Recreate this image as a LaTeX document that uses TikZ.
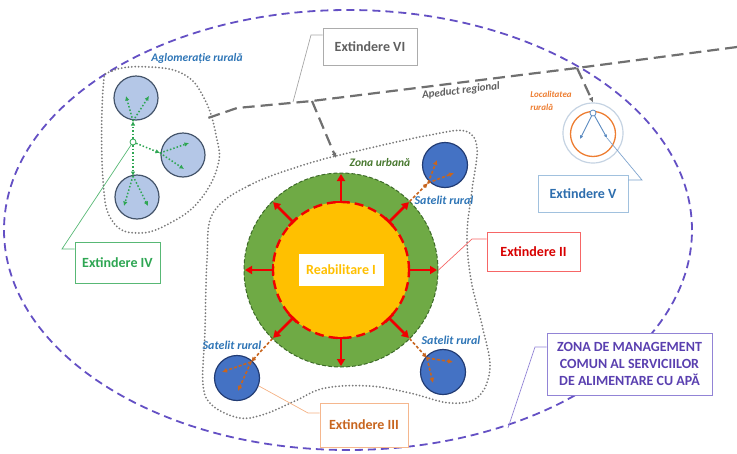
\documentclass[tikz,border=0pt]{standalone}
\usepackage{fontspec}
\setmainfont{Carlito}
\usetikzlibrary{positioning,arrows.meta}
\definecolor{zonecol}{HTML}{6450C4}
\definecolor{zonetext}{HTML}{5A40B0}
\definecolor{apgray}{HTML}{707070}
\definecolor{dotgray}{HTML}{7A7A7A}
\definecolor{agfill}{HTML}{B4C7E7}
\definecolor{agline}{HTML}{44546A}
\definecolor{aggreen}{HTML}{2EA653}
\definecolor{ringgreen}{HTML}{6FAA45}
\definecolor{darkgreen}{HTML}{3E6B29}
\definecolor{coreyellow}{HTML}{FFC000}
\definecolor{ringred}{HTML}{F00000}
\definecolor{satfill}{HTML}{4472C4}
\definecolor{satline}{HTML}{223C74}
\definecolor{satorange}{HTML}{C8651E}
\definecolor{labelblue}{HTML}{2E75B6}
\definecolor{locorange}{HTML}{ED7D31}
\definecolor{locring}{HTML}{C5D3E2}
\definecolor{locblue}{HTML}{5A8AC0}
\definecolor{extblue}{HTML}{2E6EAE}

\begin{document}
\begin{tikzpicture}[x=1pt,y=-1pt,
    every node/.style={inner sep=0pt},
    extbox/.style={draw, fill=white, line width=0.9pt,
      font=\bfseries\fontsize{14}{16}\selectfont},
    tag/.style={font=\bfseries\itshape\fontsize{11.5}{12}\selectfont},
    blob/.style={draw=dotgray, line width=2pt, line cap=round,
      dash pattern=on 0pt off 3.4pt},
    apeduct/.style={draw=apgray, line width=2.2pt, dash pattern=on 12pt off 6pt},
    aglo/.style={circle, draw=agline, line width=1.2pt, fill=agfill, minimum size=44pt},
    sat/.style={circle, draw=satline, line width=1.2pt, fill=satfill, minimum size=45pt},
    greenarrow/.style={draw=aggreen, line width=1.5pt, dotted, -{Latex[length=4.5pt,width=4.5pt]}},
    satarrow/.style={draw=satorange, line width=1.6pt, dash pattern=on 3pt off 2pt,
      -{Latex[length=5pt,width=5pt]}},
    ringarrow/.style={draw=ringred, line width=2.6pt, -{Triangle[length=7pt,width=8pt]}},
    callout/.style={line width=0.7pt}]

\useasboundingbox (0,0) rectangle (737,453);

\draw[zonecol, line width=1.8pt, dash pattern=on 8pt off 5pt]
  (348,230) ellipse [x radius=344pt, y radius=220pt];

\draw[blob] plot[smooth cycle, tension=0.7] coordinates {(103,90) (112,71) (150,67)
  (185,75) (205,100) (216,135) (218,165) (200,200) (172,222) (140,233) (113,222) (103,180)};
\draw[blob] plot[smooth cycle, tension=0.6] coordinates {(213,213) (250,185) (310,163)
  (370,148) (430,135) (465,131) (477,148) (472,190) (467,235) (471,280) (482,325)
  (490,368) (478,397) (450,403) (410,393) (370,386) (325,388) (295,401) (265,414)
  (240,418) (213,406) (203,385) (205,330) (207,260)};

\coordinate (apE) at (737,47);
\coordinate (apJ1) at (577,68);
\coordinate (apJ2) at (312,101);
\coordinate (apK) at (237,108);
\coordinate (agIn) at (208,118);
\coordinate (urbIn) at (336,158);
\draw[apeduct] (apE) -- (apJ1) -- (apJ2) -- (apK) -- (agIn);
\draw[apeduct, -{Latex[length=5pt,width=5pt]}] (apJ2) -- (urbIn);
\node[font=\bfseries\itshape\fontsize{11}{12}\selectfont, text=apgray!85!black,
  rotate=7] (ap) at (461,91) {Apeduct regional};

% aglomeratie rurala
\node[aglo] (ag1) at (136,98) {};
\node[aglo] (ag2) at (183,155) {};
\node[aglo] (ag3) at (137,197) {};
\node[circle, draw=aggreen, fill=white, line width=0.8pt, minimum size=6pt] (agN) at (133,142) {};
\coordinate (ag1b) at (133,121);
\coordinate (ag2b) at (160,153);
\coordinate (ag3b) at (133,176);
\draw[greenarrow] (agN) -- (ag1b);
\draw[greenarrow] (ag1b) -- (126,96);
\draw[greenarrow] (ag1b) -- (149,96);
\draw[greenarrow] (agN) -- (ag2b);
\draw[greenarrow] (ag2b) -- (189,143);
\draw[greenarrow] (ag2b) -- (184,169);
\draw[greenarrow] (agN) -- (ag3b);
\draw[greenarrow] (ag3b) -- (124,206);
\draw[greenarrow] (ag3b) -- (148,206);
\node[tag, text=labelblue] (agLbl) at (197,59) {Aglomerație rurală};

% zona urbana
\node[circle, minimum size=194pt, fill=ringgreen, draw=darkgreen, line width=1pt,
  dash pattern=on 4pt off 2pt] (urb) at (341,270) {};
\node[circle, minimum size=136pt, fill=coreyellow, draw=ringred, line width=2.4pt,
  dash pattern=on 9pt off 5pt] (core) at (341,270) {};
\begin{scope}[shift={(341,270)}]
\foreach \a in {0,45,...,315} {
  \draw[ringred, line width=2.6pt] (\a:68) ++(\a+90:6) -- ++(\a-90:12);
  \draw[ringarrow] (\a:68) -- (\a:96);
}
\coordinate (gNE) at (-45:97);
\coordinate (gSE) at (45:97);
\coordinate (gSW) at (135:97);
\end{scope}
\node[fill=white, minimum width=85pt, minimum height=32pt, text=coreyellow,
  font=\bfseries\fontsize{14}{16}\selectfont] (reab) at (341,270) {Reabilitare I};
\node[tag, text=darkgreen!80!ringgreen] (urbLbl) at (380,163) {Zona urbană};

% sateliti
\node[sat] (satNE) at (445,165) {};
\node[sat] (satSE) at (443,372) {};
\node[sat] (satSW) at (237,378) {};
\coordinate (sNEin) at (428,183);
\coordinate (sSEin) at (427,358);
\coordinate (sSWin) at (251,362);
\draw[satarrow] (gNE) -- (sNEin);
\draw[satarrow] (sNEin) -- (437,160);
\draw[satarrow] (sNEin) -- (454,173);
\draw[satarrow] (gSE) -- (sSEin);
\draw[satarrow] (sSEin) -- (453,362);
\draw[satarrow] (sSEin) -- (433,383);
\draw[satarrow] (gSW) -- (sSWin);
\draw[satarrow] (sSWin) -- (222,372);
\draw[satarrow] (sSWin) -- (238,391);
\node[tag, text=labelblue, font=\bfseries\itshape\fontsize{12}{13}\selectfont]
  (satNELbl) at (444,200) {Satelit rural};
\node[tag, text=labelblue, font=\bfseries\itshape\fontsize{12}{13}\selectfont]
  (satSELbl) at (451,340) {Satelit rural};
\node[tag, text=labelblue, font=\bfseries\itshape\fontsize{12}{13}\selectfont]
  (satSWLbl) at (232,345) {Satelit rural};

% localitatea rurala
\node[circle, draw=locring, line width=1.2pt, minimum size=60pt] (locO) at (593,133) {};
\node[circle, draw=locorange, line width=1.3pt, minimum size=45pt] (locI) at (593,134) {};
\node[circle, draw=locblue, fill=white, line width=0.8pt, minimum size=6pt] (locN) at (593,113) {};
\coordinate (locA) at (580,139);
\coordinate (locB) at (607,138);
\draw[locblue, line width=0.9pt, -{Latex[length=3.5pt,width=3.5pt]}] (locN) -- (locA);
\draw[locblue, line width=0.9pt, -{Latex[length=3.5pt,width=3.5pt]}] (locN) -- (locB);
\draw[apeduct, -{Latex[length=5pt,width=5pt]}] (apJ1) -- (locO.north);
\node[tag, text=locorange, align=left, font=\bfseries\itshape\fontsize{9}{13}\selectfont]
  (locLbl) at (551,101) {Localitatea\\rurală};

% extinderi
\node[extbox, draw=gray!65, text=gray!75!black, minimum width=94pt, minimum height=37pt]
  (ext6) at (370,46.5) {Extindere VI};
\node[extbox, draw=aggreen!80, text=aggreen, minimum width=85pt, minimum height=41pt]
  (ext4) at (117.5,262.5) {Extindere IV};
\node[extbox, draw=ringred!60, text=ringred!90!black, minimum width=93pt, minimum height=39pt]
  (ext2) at (533.5,251.5) {Extindere II};
\node[extbox, draw=locorange!55, text=satorange, minimum width=88pt, minimum height=44pt]
  (ext3) at (364,425) {Extindere III};
\node[extbox, draw=labelblue!45, text=extblue, minimum width=90pt, minimum height=37pt]
  (ext5) at (583,193.5) {Extindere V};
\node[extbox, draw=zonecol!70, text=zonetext, minimum width=165pt, minimum height=62pt,
  align=center, font=\bfseries\fontsize{14}{17}\selectfont]
  (zona) at (629.5,364) {ZONA DE MANAGEMENT\\COMUN AL SERVICIILOR\\DE ALIMENTARE CU APĂ};

\coordinate (c6b) at (293,102);
\coordinate (c6) at (311,35);
\draw[callout, gray!70] (c6b) -- (c6) -- (c6 -| ext6.west);
\coordinate (c4) at (62,249);
\draw[callout, aggreen!80] (agN) -- (c4) -- (c4 -| ext4.west);
\coordinate (c2) at (472,239);
\draw[callout, ringred!60] (urb.east) -- (c2) -- (c2 -| ext2.west);
\coordinate (c3) at (308,413);
\draw[callout, locorange!60] (satSW.-20) -- (c3) -- (c3 -| ext3.west);
\coordinate (c5) at (642,180);
\draw[callout, locblue!80] (locB) -- (c5) -- (c5 -| ext5.east);
\coordinate (c7b) at (508,428);
\coordinate (c7) at (535,347);
\draw[callout, zonecol!70] (c7b) -- (c7) -- (c7 -| zona.west);
\end{tikzpicture}
\end{document}
